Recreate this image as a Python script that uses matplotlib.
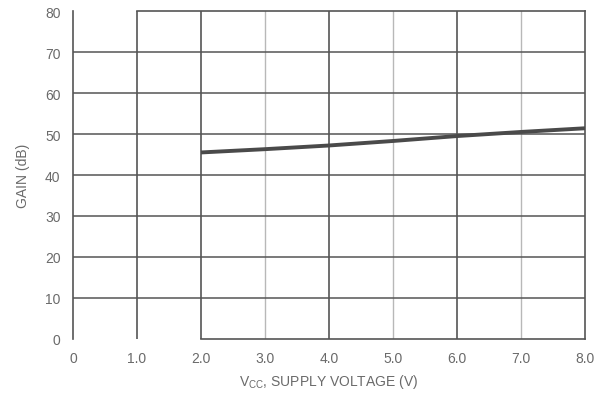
import matplotlib
matplotlib.use("Agg")
import matplotlib.pyplot as plt

# Gain vs. supply voltage
vcc = [2.0, 3.0, 4.0, 5.0, 6.0, 7.0, 8.0]
gain_db = [45.5, 46.3, 47.2, 48.3, 49.5, 50.5, 51.4]

x_ticks = [0, 1, 2, 3, 4, 5, 6, 7, 8]
x_tick_labels = ["0", "1.0", "2.0", "3.0", "4.0", "5.0", "6.0", "7.0", "8.0"]
y_ticks = [0, 10, 20, 30, 40, 50, 60, 70, 80]
y_tick_labels = ["0", "10", "20", "30", "40", "50", "60", "70", "80"]

major_x = [1, 2, 4, 6]
minor_x = [3, 5, 7]
grid_y = [10, 20, 30, 40, 50, 60, 70]

plt.rcParams["font.family"] = ["Liberation Sans", "DejaVu Sans"]
text_color = "#6a6a6a"
dark = "#555555"
light = "#b8b8b8"

fig = plt.figure(figsize=(6.01, 4.06), dpi=100)
ax = fig.add_axes([0.1215, 0.1626, 0.9734 - 0.1215, 0.9704 - 0.1626])
ax.set_xlim(0, 8)
ax.set_ylim(0, 80)

for xv in minor_x:
    ax.axvline(xv, color=light, lw=1.0, zorder=1)
for xv in major_x:
    ax.axvline(xv, color=dark, lw=1.2, zorder=2)
for yv in grid_y:
    ax.axhline(yv, color=dark, lw=1.1, zorder=2)

ax.plot(vcc, gain_db, color="#4a4a4a", lw=2.8, solid_capstyle="butt", zorder=3)

for side in ["left", "right", "top", "bottom"]:
    ax.spines[side].set_color(dark)
    ax.spines[side].set_linewidth(1.2)
ax.spines["bottom"].set_bounds(2, 8)
ax.spines["top"].set_bounds(1, 8)

ax.set_xticks(x_ticks)
ax.set_xticklabels(x_tick_labels)
ax.set_yticks(y_ticks)
ax.set_yticklabels(y_tick_labels)
ax.tick_params(axis="both", length=0, labelsize=10, colors=text_color)
ax.tick_params(axis="x", pad=9)
ax.tick_params(axis="y", pad=9)

ax.set_xlabel(r"V$_{\mathregular{CC}}$, SUPPLY VOLTAGE (V)", fontsize=10,
              color=text_color, labelpad=5)
ax.set_ylabel("GAIN (dB)", fontsize=10, color=text_color, labelpad=11)

fig.savefig("out.png", dpi=100, facecolor="white")
